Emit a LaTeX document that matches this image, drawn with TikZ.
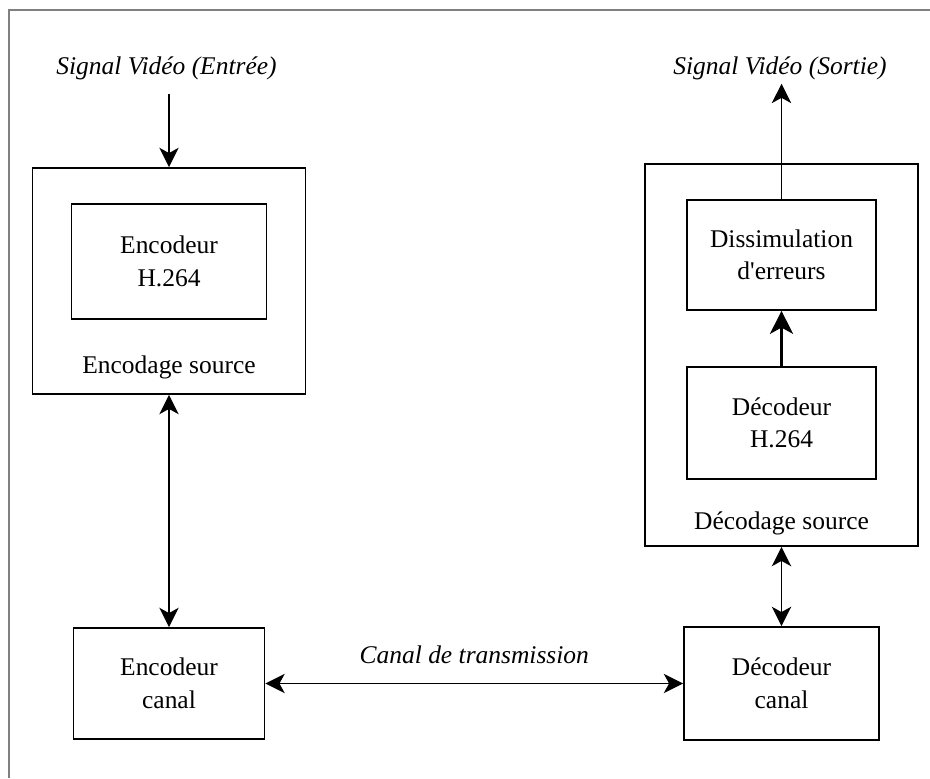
\documentclass[tikz,border=0pt]{standalone}
\usepackage{fontspec}
\setmainfont{Liberation Serif}
\usetikzlibrary{arrows.meta}
\tikzset{
	bloc/.style={draw, line width=1pt, align=center, inner sep=0pt, font=\fontsize{14.5}{18.5}\selectfont},
	texte/.style={inner sep=0pt, font=\fontsize{14.5}{18.5}\selectfont},
	fleche/.style={line width=1pt, -{Stealth[length=11pt, width=11pt, inset=3pt]}},
	fleches/.style={line width=1pt, {Stealth[length=11pt, width=11pt, inset=3pt]}-{Stealth[length=11pt, width=11pt, inset=3pt]}},
	flecheepaisse/.style={line width=2.2pt, -{Stealth[length=13pt, width=13pt, inset=3.5pt]}}
}

\begin{document}
\begin{tikzpicture}
			%%%%% START %%%%%
			
			\useasboundingbox (0, 0) rectangle (18.6, 15.56);
			\draw[line width=1pt, color=black!50] (0.18, 0) -- (0.18, 15.36) -- (18.6, 15.36);
			
			% cote emission
			\node[bloc, minimum width=5.46cm, minimum height=4.52cm] (encsrc) at (3.38, 9.94) {};
			\node[bloc, minimum width=3.9cm, minimum height=2.3cm] (ench264) at (3.38, 10.33) {Encodeur\\H.264};
			\node[texte, anchor=base] (encsrclbl) at (3.38, 8.08) {Encodage source};
			\node[bloc, minimum width=3.82cm, minimum height=2.22cm] (enccan) at (3.38, 1.89) {Encodeur\\canal};
			\node[texte, anchor=base, font=\fontsize{14.5}{18.5}\selectfont\itshape] (sigin) at (3.33, 14.06) {Signal Vidéo (Entrée)};
			
			% cote reception
			\node[bloc, minimum width=5.46cm, minimum height=7.64cm] (decsrc) at (15.63, 8.46) {};
			\node[bloc, minimum width=3.77cm, minimum height=2.2cm] (dissim) at (15.63, 10.46) {Dissimulation\\d\textquotesingle erreurs};
			\node[bloc, minimum width=3.77cm, minimum height=2.24cm] (dech264) at (15.63, 7.1) {Décodeur\\H.264};
			\node[texte, anchor=base] (decsrclbl) at (15.63, 4.96) {Décodage source};
			\node[bloc, minimum width=3.9cm, minimum height=2.26cm] (deccan) at (15.63, 1.89) {Décodeur\\canal};
			\node[texte, anchor=base, font=\fontsize{14.5}{18.5}\selectfont\itshape] (sigout) at (15.6, 14.06) {Signal Vidéo (Sortie)};
			
			% liaisons
			\draw[fleche] ([yshift=-0.26cm]sigin.south -| encsrc.north) -- (encsrc.north);
			\draw[fleches] (encsrc.south) -- (enccan.north);
			\draw[fleches] (enccan.east) -- node[texte, anchor=base, yshift=0.4cm, font=\fontsize{14.5}{18.5}\selectfont\itshape] (canal) {Canal de transmission} (deccan.west);
			\draw[fleches] (decsrc.south) -- (deccan.north);
			\draw[flecheepaisse] (dech264.north) -- (dissim.south);
			\draw[fleche] (dissim.north) -- ([yshift=-0.06cm]dissim.north |- sigout.south);
			
			%%%%% END %%%%%
		\end{tikzpicture}
\end{document}
